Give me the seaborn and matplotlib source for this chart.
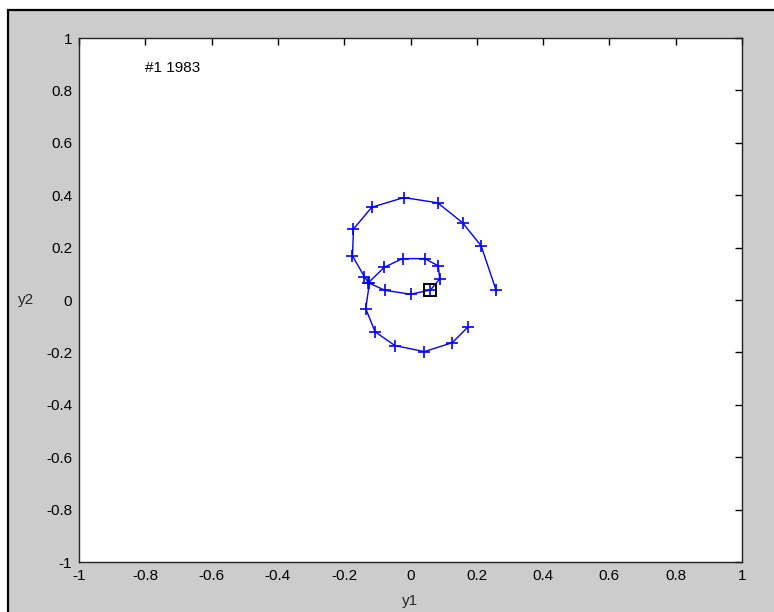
import matplotlib
matplotlib.use("Agg")
import matplotlib.pyplot as plt
import matplotlib.patches as mpatches
import numpy as np
import pandas as pd
import seaborn as sns

# trajectory
y1 = [0.258, 0.213, 0.157, 0.082, -0.020, -0.117, -0.172, -0.175, -0.139, -0.127,
      -0.079, -0.024, 0.043, 0.084, 0.088, 0.060, 0.000, -0.077, -0.124, -0.135,
      -0.107, -0.047, 0.042, 0.126, 0.174]
y2 = [0.038, 0.207, 0.295, 0.371, 0.391, 0.354, 0.271, 0.168, 0.089, 0.066,
      0.125, 0.158, 0.158, 0.130, 0.080, 0.038, 0.022, 0.037, 0.064, -0.033,
      -0.121, -0.174, -0.197, -0.163, -0.102]
marked = 15  # point drawn with the square
label_text = "#1 1983"
ticks = [-1, -0.8, -0.6, -0.4, -0.2, 0, 0.2, 0.4, 0.6, 0.8, 1]
tick_labels = ["-1", "-0.8", "-0.6", "-0.4", "-0.2", "0", "0.2", "0.4", "0.6", "0.8", "1"]

df = pd.DataFrame({"y1": y1, "y2": y2})

sns.set_style("white")
plt.rcParams["font.family"] = ["Liberation Sans", "DejaVu Sans"]

fig = plt.figure(figsize=(7.74, 6.12), dpi=100)
fig.patch.set_facecolor("white")
# window frame (gray, black edge on left/top, cut off at right/bottom)
frame = mpatches.Rectangle((8 / 774, -0.1), 1.2, 1 - 10 / 612 + 0.1,
                           transform=fig.transFigure, facecolor="#cccccc",
                           edgecolor="black", linewidth=1.6, zorder=-10)
fig.patches.append(frame)

ax = fig.add_axes([79 / 774, 1 - 562 / 612, (742 - 79) / 774, (562 - 38) / 612])
ax.set_facecolor("white")

sns.lineplot(data=df, x="y1", y="y2", sort=False, estimator=None, ax=ax,
             color="blue", linewidth=1, marker="+", markersize=8.5,
             markeredgewidth=1.2, markeredgecolor="blue")
ax.plot(y1[marked], y2[marked], marker="s", markersize=9, markerfacecolor="none",
        markeredgecolor="black", markeredgewidth=1.4, linestyle="none")

ax.text(-0.8, 0.885, label_text, ha="left", va="center", fontsize=11, color="black")

ax.set_xlim(-1, 1)
ax.set_ylim(-1, 1)
ax.set_xticks(ticks)
ax.set_yticks(ticks)
ax.set_xticklabels(tick_labels)
ax.set_yticklabels(tick_labels)
ax.tick_params(direction="in", length=5, width=1, colors="black", labelsize=11,
               top=True, right=True, pad=5)
for s in ax.spines.values():
    s.set_visible(True)
    s.set_color("#222222")
    s.set_linewidth(1)

ax.set_xlabel("y1", fontsize=11, labelpad=8)
ax.set_ylabel("y2", fontsize=11, rotation=0, labelpad=14, va="center")

fig.savefig("out.png", dpi=100, facecolor=fig.get_facecolor())
